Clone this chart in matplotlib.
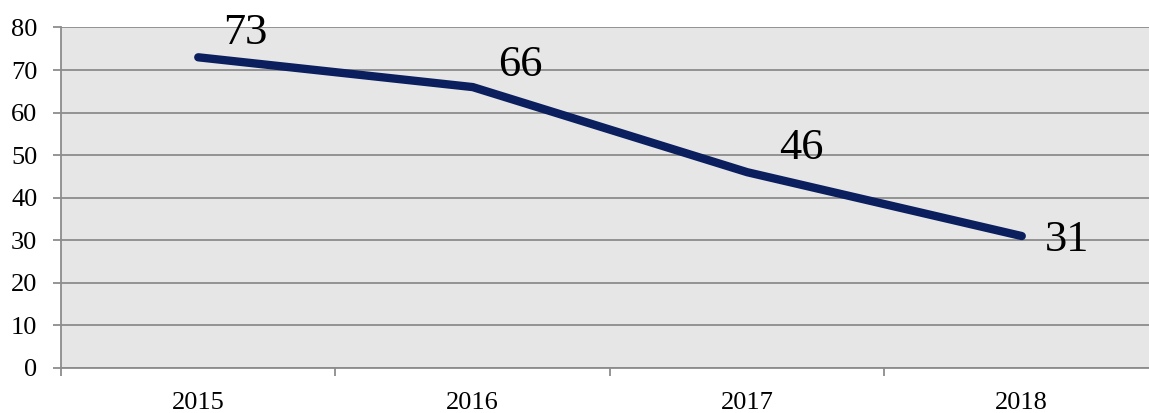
import matplotlib
matplotlib.use("Agg")
import matplotlib.pyplot as plt

years = ["2015", "2016", "2017", "2018"]
values = [73, 66, 46, 31]
yticks = [0, 10, 20, 30, 40, 50, 60, 70, 80]

plt.rcParams["font.family"] = ["Liberation Serif", "DejaVu Serif"]

W, H = 1149, 413
fig = plt.figure(figsize=(W / 100, H / 100), dpi=100)
# plot area runs past the right edge of the image
left, right, top, bottom = 61, 1159, 27.5, 368
ax = fig.add_axes([left / W, 1 - bottom / H, (right - left) / W, (bottom - top) / H])

ax.set_facecolor("#e6e6e6")
x = list(range(len(years)))
ax.plot(x, values, color="#0b1f5e", linewidth=6, solid_capstyle="round", zorder=3)

offsets = [(47, 24), (48, 22), (54, 24), (45, -4)]
for xi, v, off in zip(x, values, offsets):
    ax.annotate(str(v), (xi, v), xytext=off, textcoords="offset pixels",
                ha="center", va="center", fontsize=32, color="black", zorder=4)

ax.set_xlim(-0.5, len(years) - 0.5)
ax.set_ylim(0, 80)
ax.set_yticks(yticks)
ax.set_xticks(x)
ax.set_xticklabels(years)
ax.set_xticks([i - 0.5 for i in range(len(years) + 1)], minor=True)

ax.grid(axis="y", color="#8c8c8c", linewidth=1.3, zorder=1)
ax.set_axisbelow(True)
for s in ["top", "right"]:
    ax.spines[s].set_visible(False)
for s in ["left", "bottom"]:
    ax.spines[s].set_color("#8c8c8c")
    ax.spines[s].set_linewidth(1.3)

ax.tick_params(axis="y", length=6, width=1.3, color="#8c8c8c", pad=11, labelsize=19)
ax.tick_params(axis="x", which="major", length=0, pad=17, labelsize=19)
ax.tick_params(axis="x", which="minor", length=6, width=1.3, color="#8c8c8c")

plt.savefig("out.png", dpi=100)
